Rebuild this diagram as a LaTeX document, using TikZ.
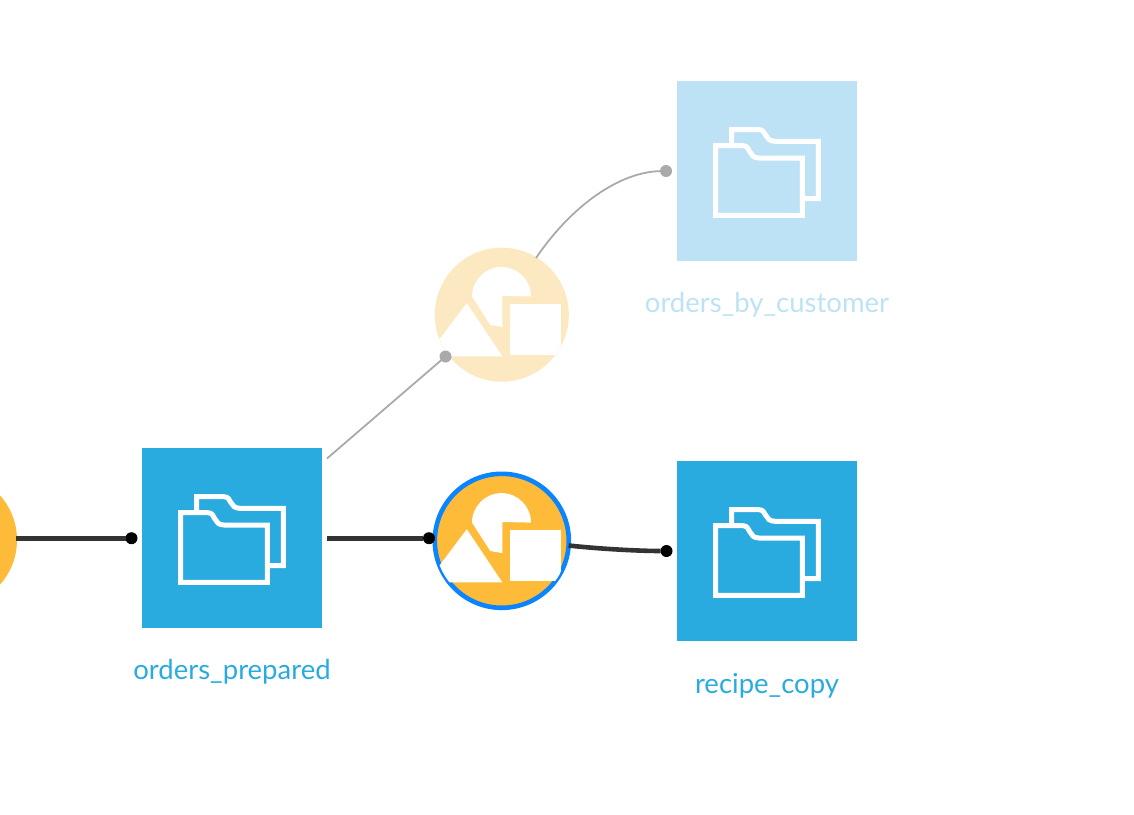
\documentclass[tikz,border=0pt]{standalone}
\usepackage{fontspec}
\setmainfont{Lato}
\definecolor{dsblue}{HTML}{29ABDF}
\definecolor{dsbluelight}{HTML}{BEE2F5}
\definecolor{dsorange}{HTML}{FDBB39}
\definecolor{dsorangelight}{HTML}{FDE9C1}
\definecolor{dsring}{HTML}{0A84FF}
\definecolor{dsline}{HTML}{333333}
\definecolor{dsgrey}{HTML}{AAAAAA}
\tikzset{
  dataset/.style={rectangle,minimum size=180,inner sep=0,outer sep=0,fill=#1},
  recipe/.style={circle,minimum size=134,inner sep=0,outer sep=0,fill=#1},
  itemlabel/.style={anchor=base,inner sep=0,font=\fontsize{27.5}{30}\selectfont,text=#1},
  darkdot/.style={circle,minimum size=12,inner sep=0,outer sep=0,fill=black},
  greydot/.style={circle,minimum size=12,inner sep=0,outer sep=0,fill=dsgrey},
  darkwire/.style={draw=dsline,line width=4.6},
  greywire/.style={draw=dsgrey,line width=1.8},
  pics/foldericon/.style={code={
    \draw[white,line width=5,miter limit=10,line join=miter]
      (-51.3,-25.3) -- (-24,-25.3) .. controls (-16,-25.3) and (-19,-13) .. (-8,-13)
      -- (35.3,-13) -- (35.3,44.3) -- (-51.3,44.3) -- cycle;
    \draw[white,line width=5,line join=miter]
      (-35.3,-25.3) -- (-35.3,-41.3) -- (-8,-41.3) .. controls (0,-41.3) and (-3,-29.7) .. (8,-29.7)
      -- (51.3,-29.7) -- (51.3,27.7) -- (37,27.7);
  }},
  pics/recipeicon/.style={code={
    \begin{scope}
      \clip (0,0) circle[radius=66.8];
      \fill[white] (-35,-11.7) -- (0.5,41.6) -- (-75,41.6) -- cycle;
      \fill[white] (7.9,-11) rectangle (58.9,40);
    \end{scope}
    \fill[white] (-29.8,-18.2) arc[start angle=180,end angle=360,radius=29.5]
      -- (0.5,-18.8) -- (0.5,12.2) -- (-11.5,10.2) -- cycle;
  }},
}
\begin{document}
\begin{tikzpicture}[x=1pt,y=-1pt]
\useasboundingbox (0,0) rectangle (1134,814);
\clip (0,0) rectangle (1134,814);

\node[recipe=dsorange] (rcpL) at (-50,540) {};
\node[dataset=dsblue] (prepared) at (232,538) {};
\node[dataset=dsbluelight] (bycust) at (767,171) {};
\node[dataset=dsblue] (copy) at (767,551) {};
\node[recipe=dsorangelight] (rcpT) at (501.8,314.7) {};
\node[recipe=dsorange,draw=dsring,line width=4.6] (rcpB) at (501.8,540.8) {};

\pic at (prepared) {foldericon};
\pic at (bycust) {foldericon};
\pic at (copy) {foldericon};
\pic at (rcpT) {recipeicon};
\pic at (rcpB) {recipeicon};

\node[itemlabel=dsblue] (lblprepared) at (232,679) {orders\_prepared};
\node[itemlabel=dsbluelight] (lblbycust) at (767,312) {orders\_by\_customer};
\node[itemlabel=dsblue] (lblcopy) at (767,693) {recipe\_copy};

\node[darkdot] (dotprepared) at (131.5,538.2) {};
\node[darkdot] (dotrcpB) at (429,538.2) {};
\node[darkdot] (dotcopy) at (666.5,551) {};
\node[greydot] (dotrcpT) at (445.5,356.5) {};
\node[greydot] (dotbycust) at (666,171) {};

\coordinate (outprepared) at (327,538.2);
\coordinate (outpreparedT) at (327,458.5);
\coordinate (inL) at (16,538.2);
\coordinate (outT) at (536,258);

\draw[darkwire] (inL) -- (dotprepared);
\draw[darkwire] (outprepared) -- (dotrcpB);
\draw[darkwire] (rcpB.-4) .. controls (600,549) and (640,551) .. (dotcopy);
\draw[greywire] (outpreparedT) -- (dotrcpT);
\draw[greywire] (outT) .. controls (572,205) and (620,172) .. (dotbycust);
\end{tikzpicture}
\end{document}
